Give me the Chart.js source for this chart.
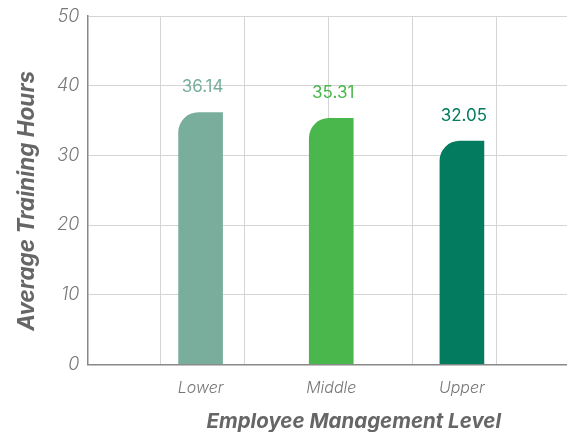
<!DOCTYPE html>
<html>
<head>
<meta charset="utf-8">
<script src="https://cdn.jsdelivr.net/npm/chart.js@4.4.1/dist/chart.umd.min.js"></script>
<style>
  html, body { margin: 0; padding: 0; background: #fff; overflow: hidden; }
  #wrap { width: 620px; height: 432px; }
</style>
</head>
<body>
<div id="wrap"><canvas id="grafico" width="620" height="432"></canvas></div>
<script>
const niveis = ["Lower", "Middle", "Upper"];
const horasMedias = [36.14, 35.31, 32.05];
const coresBarras = ["#79ae9d", "#49b74b", "#037b5e"];
const ticksY = [0, 10, 20, 30, 40, 50];

const fonte = "Inter, Lato, 'DejaVu Sans', sans-serif";

// rótulos de valor acima de cada barra
const rotulosValor = {
  id: "rotulosValor",
  afterDatasetsDraw(chart) {
    const ctx = chart.ctx;
    const meta = chart.getDatasetMeta(0);
    ctx.save();
    ctx.font = "400 17px " + fonte;
    ctx.textAlign = "center";
    ctx.textBaseline = "bottom";
    meta.data.forEach((barra, i) => {
      ctx.fillStyle = coresBarras[i];
      ctx.fillText(horasMedias[i].toFixed(2), barra.x + 2, barra.y - 17);
    });
    ctx.restore();
  }
};

const ctx = document.getElementById("grafico").getContext("2d");
new Chart(ctx, {
  type: "bar",
  data: {
    datasets: [{
      data: horasMedias.map((v, i) => ({ x: i + 1, y: v })),
      backgroundColor: coresBarras,
      barThickness: 44,
      borderRadius: { topLeft: 20, topRight: 0, bottomLeft: 0, bottomRight: 0 },
      borderSkipped: "start"
    }]
  },
  plugins: [rotulosValor],
  options: {
    responsive: false,
    animation: false,
    layout: { padding: { top: 0, left: 14, right: 0, bottom: 0 } },
    plugins: {
      legend: { display: false },
      tooltip: { enabled: false }
    },
    scales: {
      x: {
        type: "linear",
        position: "bottom",
        offset: false,
        min: 0.134,
        max: 4.21,
        afterBuildTicks: (eixo) => {
          eixo.ticks = niveis.map((n, i) => ({ value: i + 1 }));
        },
        ticks: {
          callback: (valor) => niveis[valor - 1] || "",
          color: "#777",
          font: { family: fonte, size: 16, style: "italic", weight: "300", lineHeight: 1.2 },
          padding: 14,
          maxRotation: 0,
          autoSkip: false
        },
        grid: { display: false, drawTicks: false, offset: false },
        border: { color: "#888", width: 1.5 },
        title: {
          display: true,
          text: "Employee Management Level",
          color: "#666",
          font: { family: fonte, size: 20.5, style: "italic", weight: "bold", lineHeight: 1.0 },
          padding: { top: 0, bottom: 0 }
        }
      },
      x2: {
        type: "linear",
        position: "top",
        offset: false,
        min: -73,
        max: 459,
        ticks: { display: false, stepSize: 84 },
        grid: { color: "#d4d4d4", lineWidth: 1, drawTicks: false, offset: false },
        border: { display: false }
      },
      y: {
        min: 0,
        max: 50,
        afterBuildTicks: (eixo) => {
          eixo.ticks = ticksY.map(v => ({ value: v }));
        },
        ticks: {
          color: "#777",
          font: { family: fonte, size: 18, style: "italic", weight: "300", lineHeight: 0.9 },
          padding: 8
        },
        grid: { color: "#d4d4d4", lineWidth: 1, drawTicks: false },
        border: { color: "#888", width: 1.5 },
        title: {
          display: true,
          // espaços no fim deslocam o título um pouco para baixo, como no original
          text: "Average Training Hours    ",
          color: "#666",
          font: { family: fonte, size: 22.5, style: "italic", weight: "bold" },
          padding: { top: 0, bottom: 8 }
        }
      }
    }
  }
});
</script>
</body>
</html>
